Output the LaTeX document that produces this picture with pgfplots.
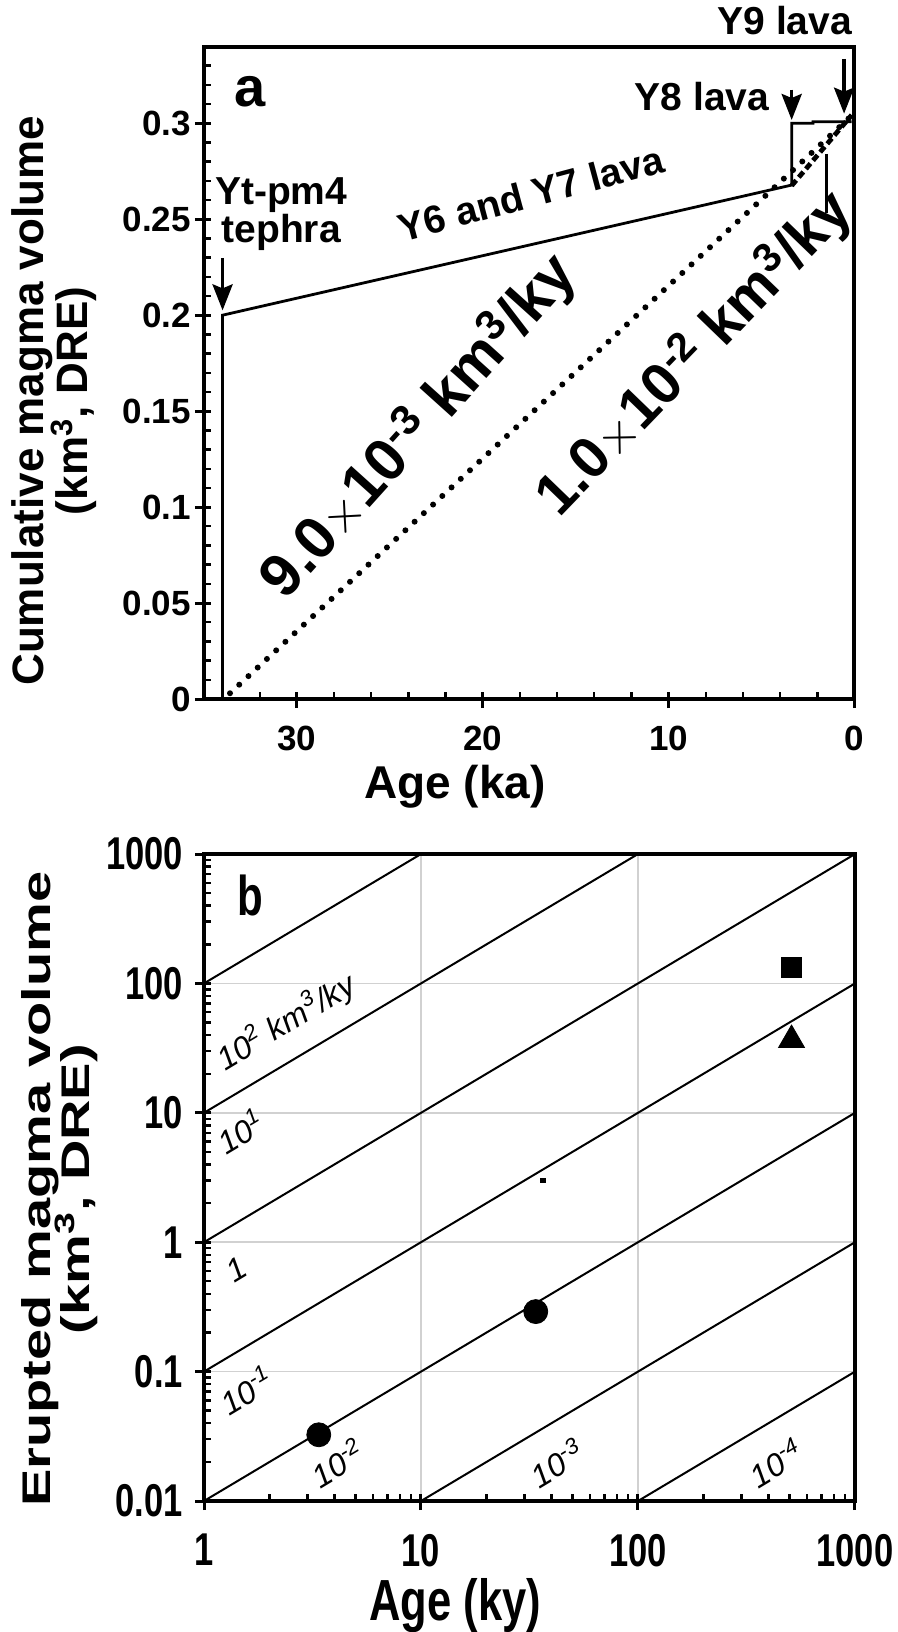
\documentclass[border=0pt]{standalone}
\usepackage{fontspec}
\setmainfont{Liberation Sans}
\newfontfamily\narrowf{Liberation Sans}[FakeStretch=0.75]
\newfontfamily\widef{Liberation Sans}[FakeStretch=1.4]
\usepackage{pgfplots}
\pgfplotsset{compat=1.18}
\usetikzlibrary{arrows.meta}
\begin{document}
\begin{tikzpicture}
\useasboundingbox (0,0) rectangle (449pt,-816pt);
% ---------------- panel a ----------------
\begin{axis}[
  at={(102pt,-349.5pt)}, anchor=south west,
  scale only axis, width=325.25pt, height=326.25pt,
  xmin=0, xmax=35, ymin=0, ymax=0.34, x dir=reverse,
  clip=false,
  axis line style={line width=2pt},
  xtick={0,10,20,30}, xticklabels={0,10,20,30},
  ytick={0,0.05,0.1,0.15,0.2,0.25,0.3},
  yticklabels={0,0.05,0.1,0.15,0.2,0.25,0.3},
  minor xtick={2,4,...,34},
  minor ytick={0.01,0.02,...,0.335},
  xtick pos=bottom, ytick pos=left,
  tick align=inside,
  major tick length=8pt, minor tick length=3.5pt,
  tick style={line width=1.5pt, black},
  minor tick style={line width=1.2pt},
  major x tick style={yshift=-4.5pt},
  major y tick style={xshift=-4.5pt},
  ticklabel style={font=\fontsize{17.5}{20}\selectfont\bfseries},
  yticklabel style={xshift=-3pt},
  xticklabel style={yshift=-10pt},
  xlabel={Age (ka)},
  xlabel style={at={(axis description cs:0.386,-0.134)}, anchor=center, font=\fontsize{23}{26}\selectfont\bfseries},
  ylabel={Cumulative magma volume\\[-2pt](km\textsuperscript{3}, DRE)},
  ylabel style={at={(axis description cs:-0.230,0.457)}, anchor=center, align=center, font=\fontsize{22}{19.5}\selectfont\bfseries},
]
% solid history line
\addplot[line width=1.4pt, black] coordinates {(34,0) (34,0.2) (3.38,0.2678) (3.38,0.300) (2.23,0.300) (2.23,0.3008) (0.15,0.3008)};
% dotted 9.0e-3 line
\addplot[line width=3pt, black, line cap=round, dash pattern=on 0pt off 6.3pt] coordinates {(33.6,0.003) (0.15,0.304)};
% dashed 1.0e-2 segment
\addplot[line width=2.4pt, black, dash pattern=on 3.5pt off 2pt] coordinates {(3.38,0.2675) (0.15,0.3043)};
% leader
\addplot[line width=1.5pt, black] coordinates {(1.5,0.284) (1.5,0.253)};
% arrows
\addplot[line width=1.8pt, black, -{Stealth[length=13pt,width=10pt,inset=2pt]}] coordinates {(34,0.2298) (34,0.2025)};
\addplot[line width=1.8pt, black, -{Stealth[length=13pt,width=10pt,inset=2pt]}] coordinates {(3.38,0.3175) (3.38,0.3017)};
\addplot[line width=1.8pt, black, -{Stealth[length=13pt,width=10pt,inset=2pt]}] coordinates {(0.56,0.3335) (0.56,0.305)};
% texts
\node[font=\fontsize{28}{30}\selectfont\bfseries] at (axis cs:32.5,0.3163) {a};
\node[anchor=east, inner sep=1pt, font=\fontsize{19.5}{22}\selectfont\bfseries] at (axis cs:0,0.3533) {Y9 lava};
\node[anchor=east, font=\fontsize{19.5}{22}\selectfont\bfseries] at (axis cs:4.2,0.3137) {Y8 lava};
\node[align=center, font=\fontsize{19.5}{19}\selectfont\bfseries] at (axis cs:30.85,0.2528) {Yt-pm4\\tephra};
\node[rotate=15, font=\fontsize{19.5}{22}\selectfont\bfseries] at (axis cs:17.4,0.2635) {Y6 and Y7 lava};
\node[rotate=48, font=\fontsize{30}{32}\selectfont\bfseries] at (axis cs:23.4,0.1417) {9.0{\mdseries$\times$}10\textsuperscript{-3} km\textsuperscript{3}/ky};
\node[rotate=46, font=\fontsize{29}{32}\selectfont\bfseries] at (axis cs:8.6,0.1798) {1.0{\mdseries$\times$}10\textsuperscript{-2} km\textsuperscript{3}/ky};
\end{axis}
% ---------------- panel b ----------------
\begin{axis}[
  at={(102pt,-750.5pt)}, anchor=south west,
  scale only axis, width=325.5pt, height=323.5pt,
  xmode=log, ymode=log,
  xmin=1, xmax=1000, ymin=0.01, ymax=1000,
  clip=false,
  axis line style={line width=2pt},
  grid=major, major grid style={line width=0.8pt, black!18},
  xtick={1,10,100,1000}, xticklabels={1,10,100,1000},
  ytick={0.01,0.1,1,10,100,1000}, yticklabels={0.01,0.1,1,10,100,1000},
  xtick pos=bottom, ytick pos=left,
  tick align=inside,
  major tick length=8pt, minor tick length=3.5pt,
  tick style={line width=1.5pt, black},
  minor tick style={line width=1.2pt},
  major x tick style={yshift=-4.5pt},
  major y tick style={xshift=-4.5pt},
  ticklabel style={font=\narrowf\fontsize{23}{25}\selectfont\bfseries},
  yticklabel style={xshift=-7pt},
  xticklabel style={yshift=-13pt},
  xlabel={Age (ky)},
  xlabel style={at={(axis description cs:0.386,-0.162)}, anchor=center, font=\narrowf\fontsize{29}{30}\selectfont\bfseries},
  ylabel={Erupted magma volume\\[-3pt](km\textsuperscript{3}, DRE)},
  ylabel style={at={(axis description cs:-0.222,0.482)}, anchor=center, align=center, font=\widef\fontsize{20}{17}\selectfont\bfseries},
]
\addplot[line width=1pt, black] coordinates {(1,100) (10,1000)};
\addplot[line width=1pt, black] coordinates {(1,10) (100,1000)};
\addplot[line width=1pt, black] coordinates {(1,1) (1000,1000)};
\addplot[line width=1pt, black] coordinates {(1,0.1) (1000,100)};
\addplot[line width=1pt, black] coordinates {(1,0.01) (1000,10)};
\addplot[line width=1pt, black] coordinates {(10,0.01) (1000,1)};
\addplot[line width=1pt, black] coordinates {(100,0.01) (1000,0.1)};
\addplot[only marks, mark=*, mark size=6pt, black] coordinates {(3.38,0.0325) (33.8,0.291)};
\addplot[only marks, mark=square*, mark size=5pt, black] coordinates {(509,132)};
\addplot[only marks, mark=triangle*, mark size=7.5pt, black] coordinates {(510,36.5)};
\addplot[only marks, mark=square*, mark size=1.2pt, black] coordinates {(36.5,3.0)};
\node[font=\narrowf\fontsize{28}{30}\selectfont\bfseries] at (axis cs:1.63,482) {b};
\node[rotate=31, font=\fontsize{16}{18}\selectfont\itshape] at (axis cs:2.39,50) {10\textsuperscript{2} km\textsuperscript{3}/ky};
\node[rotate=31, font=\fontsize{16}{18}\selectfont\itshape] at (axis cs:1.47,7.2) {10\textsuperscript{1}};
\node[rotate=31, font=\fontsize{16}{18}\selectfont\itshape] at (axis cs:1.41,0.62) {1};
\node[rotate=31, font=\fontsize{16}{18}\selectfont\itshape] at (axis cs:1.57,0.072) {10\textsuperscript{-1}};
\node[rotate=31, font=\fontsize{16}{18}\selectfont\itshape] at (axis cs:4.12,0.0198) {10\textsuperscript{-2}};
\node[rotate=31, font=\fontsize{16}{18}\selectfont\itshape] at (axis cs:42.2,0.0198) {10\textsuperscript{-3}};
\node[rotate=31, font=\fontsize{16}{18}\selectfont\itshape] at (axis cs:431,0.0198) {10\textsuperscript{-4}};
\end{axis}
\end{tikzpicture}
\end{document}
